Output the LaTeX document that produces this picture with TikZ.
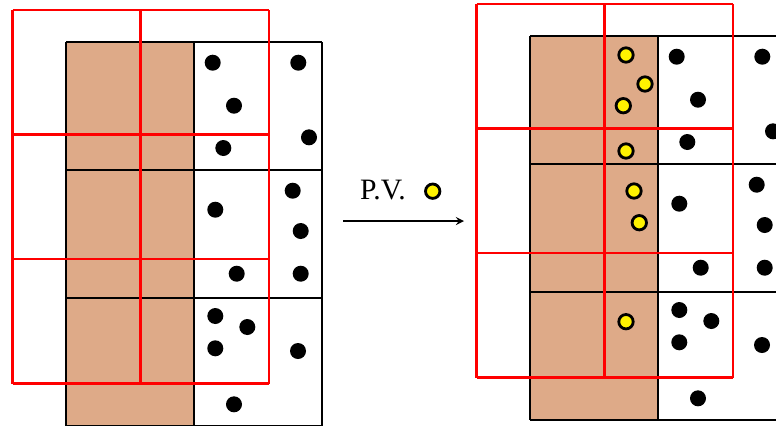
\documentclass[tikz,border=0pt]{standalone}
\usepackage{fontspec}
\usepackage{tikz}
\newfontfamily\labelfont{Liberation Serif}
\definecolor{sand}{RGB}{222,170,136}
\tikzset{
  cellgrid/.style={black,line width=1pt},
  window/.style={red,line width=1.2pt},
  hit/.style={fill=black},
  pvdot/.style={draw=black,fill=yellow,line width=1.4pt},
}

\begin{document}
\begin{tikzpicture}[x=0.5pt,y=-0.5pt,>=stealth]
\useasboundingbox (0,0) rectangle (776,425);
\clip (0,0) rectangle (776,425);
% before: hits only
\begin{scope}[shift={(66,42)}]
\fill[sand] (0,0) rectangle (128,384);
\foreach \x in {0,128,256} \draw[cellgrid] (\x,0) -- (\x,384);
\foreach \y in {0,128,256,384} \draw[cellgrid] (0,\y) -- (256,\y);
\foreach \x/\y in {146.7/20.7,232.3/20.7,168/63.7,243/95.3,157.3/106,226.7/148.7,149.3/167.7,234.7/189,170.7/231.7,234.7/231.7,149.3/274,181.3/285,149.3/306.3,232/309,168/362.3}
  \fill[hit] (\x,\y) circle (4pt);
\foreach \x in {-53.5,74.5,203} \draw[window] (\x,-32) -- (\x,341.5);
\foreach \y in {-32,92.5,217,341.5} \draw[window] (-53.5,\y) -- (203,\y);
\end{scope}
% primary vertex step
\node[font=\labelfont\fontsize{14.8}{17}\selectfont] (pvlabel) at (383,190.5) {P.V.};
\draw[pvdot] (432.7,191.2) circle (3.6pt);
\coordinate (pvfrom) at (343,221);
\coordinate (pvto) at (464,221);
\draw[->,line width=0.8pt] (pvfrom) -- (pvto);
% after: hits and vertices
\begin{scope}[shift={(530,36)}]
\fill[sand] (0,0) rectangle (128,384);
\foreach \x in {0,128,256} \draw[cellgrid] (\x,0) -- (\x,384);
\foreach \y in {0,128,256,384} \draw[cellgrid] (0,\y) -- (256,\y);
\foreach \x/\y in {146.7/20.7,232.3/20.7,168/63.7,243/95.3,157.3/106,226.7/148.7,149.3/167.7,234.7/189,170.7/231.7,234.7/231.7,149.3/274,181.3/285,149.3/306.3,232/309,168/362.3}
  \fill[hit] (\x,\y) circle (4pt);
\foreach \x/\y in {96/19,115/48,93.3/69.7,96/115,104/155,109.3/186.7,96/285.7}
  \draw[pvdot] (\x,\y) circle (3.6pt);
\foreach \x in {-53.5,74.5,203} \draw[window] (\x,-32) -- (\x,341.5);
\foreach \y in {-32,92.5,217,341.5} \draw[window] (-53.5,\y) -- (203,\y);
\end{scope}
\end{tikzpicture}
\end{document}
